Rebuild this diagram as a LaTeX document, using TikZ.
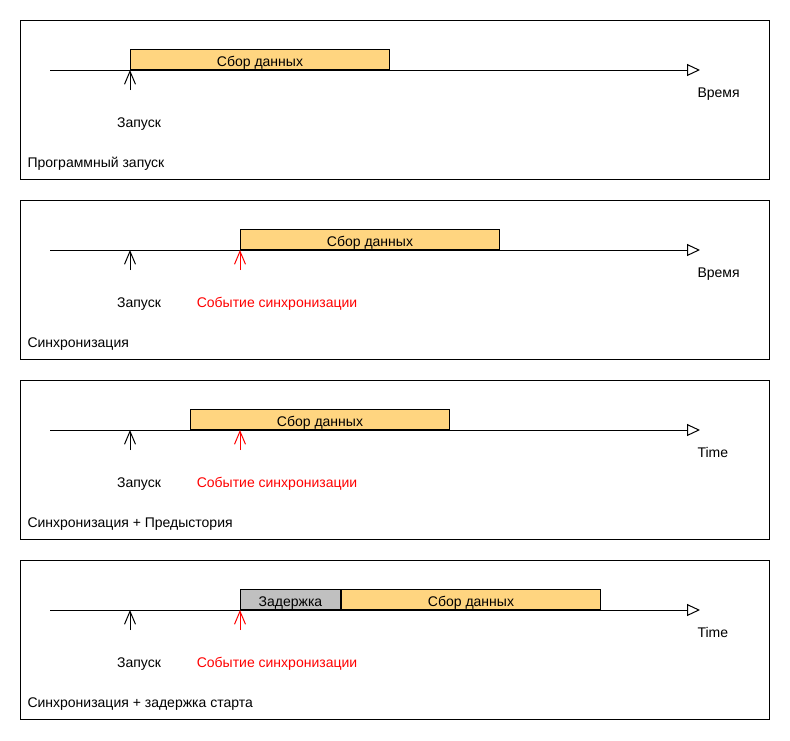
\documentclass[tikz,border=0pt]{standalone}
\usepackage{fontspec}
\setmainfont{Liberation Sans}
\usetikzlibrary{arrows.meta, positioning}
\definecolor{barorange}{HTML}{FFD580}
\definecolor{delaygrey}{HTML}{C0C0C0}

\begin{document}
\begin{tikzpicture}[x=1pt, y=-1pt, line width=1pt,
    font=\fontsize{14}{16}\selectfont,
    panel/.style={draw},
    axis/.style={-{Triangle[open, length=13pt, width=12pt]}},
    launch/.style={-{Straight Barb[length=13pt, width=11pt]}},
    syncev/.style={launch, red},
    bar/.style={draw, fill=barorange, minimum height=20pt, inner sep=0pt,
        text height=14pt, text depth=0pt, anchor=south west},
    delay/.style={bar, fill=delaygrey},
    caption/.style={anchor=west, inner sep=0pt}]
    \useasboundingbox (0,0) rectangle (790,740);

    % Программный запуск
    \begin{scope}
        \draw[panel] (20,20) rectangle (769,179);
        \coordinate (a1s) at (50,70);
        \coordinate (a1e) at (700,70);
        \draw[axis] (a1s) -- (a1e);
        \node[bar, minimum width=259pt] (bar1) at (130,70) {Сбор данных};
        \coordinate (l1) at (130,90);
        \draw[launch] (l1) -- (bar1.south west);
        \node (lt1) at (139,124) {Запуск};
        \node[caption] (t1) at (697,94) {Время};
        \node[caption] (c1) at (27,164) {Программный запуск};
    \end{scope}

    % Синхронизация
    \begin{scope}[shift={(0,180)}]
        \draw[panel] (20,20) rectangle (769,179);
        \coordinate (a2s) at (50,70);
        \coordinate (a2e) at (700,70);
        \draw[axis] (a2s) -- (a2e);
        \node[bar, minimum width=259pt] (bar2) at (240,70) {Сбор данных};
        \coordinate (l2) at (130,90);
        \coordinate (l2t) at (130,70);
        \draw[launch] (l2) -- (l2t);
        \coordinate (s2) at (240,90);
        \draw[syncev] (s2) -- (bar2.south west);
        \node (lt2) at (139,124) {Запуск};
        \node[red] (st2) at (277,124) {Событие синхронизации};
        \node[caption] (t2) at (697,94) {Время};
        \node[caption] (c2) at (27,164) {Синхронизация};
    \end{scope}

    % Синхронизация + Предыстория
    \begin{scope}[shift={(0,360)}]
        \draw[panel] (20,20) rectangle (769,179);
        \coordinate (a3s) at (50,70);
        \coordinate (a3e) at (700,70);
        \draw[axis] (a3s) -- (a3e);
        \node[bar, minimum width=259pt] (bar3) at (190,70) {Сбор данных};
        \coordinate (l3) at (130,90);
        \coordinate (l3t) at (130,70);
        \draw[launch] (l3) -- (l3t);
        \coordinate (s3) at (240,90);
        \coordinate (s3t) at (240,70);
        \draw[syncev] (s3) -- (s3t);
        \node (lt3) at (139,124) {Запуск};
        \node[red] (st3) at (277,124) {Событие синхронизации};
        \node[caption] (t3) at (697,92) {Time};
        \node[caption] (c3) at (27,164) {Синхронизация + Предыстория};
    \end{scope}

    % Синхронизация + задержка старта
    \begin{scope}[shift={(0,540)}]
        \draw[panel] (20,20) rectangle (769,179);
        \coordinate (a4s) at (50,70);
        \coordinate (a4e) at (700,70);
        \draw[axis] (a4s) -- (a4e);
        \node[delay, minimum width=100pt] (del4) at (240,70) {Задержка};
        \node[bar, minimum width=259pt] (bar4) at (del4.south east) {Сбор данных};
        \coordinate (l4) at (130,90);
        \coordinate (l4t) at (130,70);
        \draw[launch] (l4) -- (l4t);
        \coordinate (s4) at (240,90);
        \draw[syncev] (s4) -- (del4.south west);
        \node (lt4) at (139,124) {Запуск};
        \node[red] (st4) at (277,124) {Событие синхронизации};
        \node[caption] (t4) at (697,92) {Time};
        \node[caption] (c4) at (27,164) {Синхронизация + задержка старта};
    \end{scope}
\end{tikzpicture}
\end{document}
